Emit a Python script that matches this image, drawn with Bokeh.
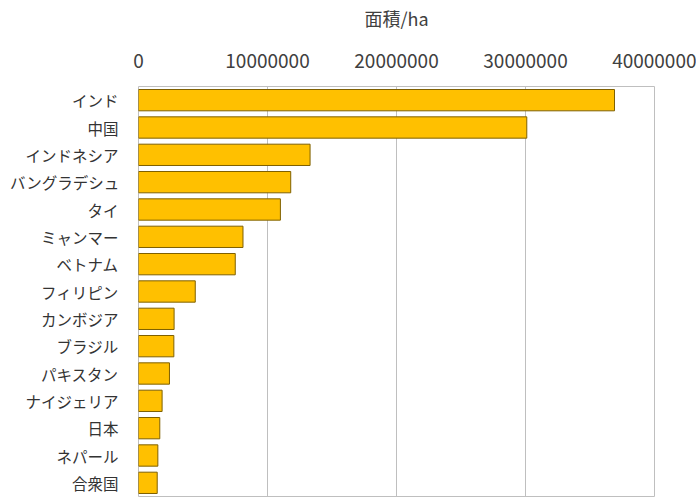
from bokeh.plotting import figure
from bokeh.models import Range1d, FactorRange, FixedTicker, NumeralTickFormatter, ColumnDataSource
from bokeh.embed import file_html
from bokeh.resources import INLINE

countries = ["インド", "中国", "インドネシア", "バングラデシュ", "タイ", "ミャンマー", "ベトナム",
             "フィリピン", "カンボジア", "ブラジル", "パキスタン", "ナイジェリア", "日本", "ネパール", "合衆国"]
area_ha = [36900000, 30100000, 13300000, 11800000, 11000000, 8100000, 7500000,
           4400000, 2760000, 2740000, 2400000, 1830000, 1650000, 1500000, 1450000]
x_ticks = [0, 10000000, 20000000, 30000000, 40000000]
axis_title = "面積/ha"

FONT = "Noto Sans CJK JP"

src = ColumnDataSource(dict(country=countries, area=area_ha))

p = figure(width=696, height=497, output_backend="svg", toolbar_location=None,
           x_range=Range1d(0, 40000000), y_range=FactorRange(factors=list(reversed(countries)), range_padding=0),
           x_axis_location="above", min_border_left=138, min_border_right=42,
           min_border_top=86, min_border_bottom=1)

p.hbar(y="country", right="area", left=0, height=0.78, source=src,
       fill_color="#FFC000", line_color="#7F6000", line_width=1)

p.background_fill_color = "white"
p.border_fill_color = "white"
p.outline_line_color = "#BFBFBF"
p.outline_line_width = 1

p.xgrid.ticker = FixedTicker(ticks=x_ticks)
p.xgrid.grid_line_color = "#BFBFBF"
p.xgrid.grid_line_width = 1
p.ygrid.grid_line_color = None

xa = p.xaxis[0]
xa.ticker = FixedTicker(ticks=x_ticks)
xa.formatter = NumeralTickFormatter(format="0")
xa.axis_line_color = None
xa.major_tick_line_color = None
xa.minor_tick_line_color = None
xa.major_tick_out = 0
xa.major_tick_in = 0
xa.major_label_standoff = 19
xa.major_label_text_font = FONT
xa.major_label_text_font_size = "19px"
xa.major_label_text_color = "#404040"
xa.axis_label = axis_title
xa.axis_label_text_font = FONT
xa.axis_label_text_font_size = "18px"
xa.axis_label_text_font_style = "normal"
xa.axis_label_text_color = "#404040"
xa.axis_label_standoff = 20

ya = p.yaxis[0]
ya.axis_line_color = None
ya.major_tick_line_color = None
ya.minor_tick_line_color = None
ya.major_tick_out = 0
ya.major_tick_in = 0
ya.major_label_standoff = 20
ya.major_label_text_font = FONT
ya.major_label_text_font_size = "15.5px"
ya.major_label_text_color = "#333333"

open("out.html", "w").write(file_html(p, INLINE))
